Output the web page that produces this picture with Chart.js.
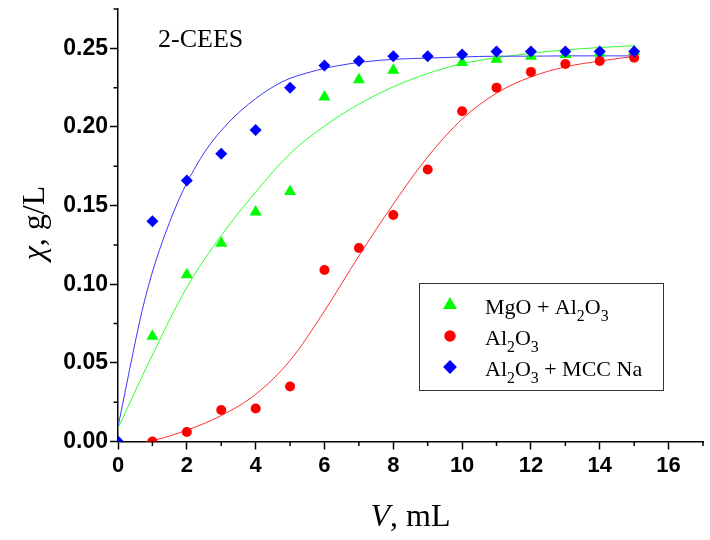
<!DOCTYPE html>
<html lang="en">

<head>
    <meta charset="UTF-8">
    <title>2-CEES</title>
    <script src="https://cdn.jsdelivr.net/npm/chart.js"></script>
    <style>
        body { margin: 0; background: #fff; }
        canvas { display: block; }
    </style>
</head>

<body>
    <canvas id="grafico" width="710" height="540"></canvas>

    <script>
        // pontos experimentais (V, mL)
        const volumes = [0, 1, 2, 3, 4, 5, 6, 7, 8, 9, 10, 11, 12, 13, 14, 15];
        const mgoAl2o3 = [null, 0.067, 0.106, 0.126, 0.146, 0.159, 0.219, 0.230, 0.236, null, 0.241, 0.243, 0.245, 0.246, 0.247, 0.248];
        const al2o3 = [null, 0.000, 0.006, 0.020, 0.021, 0.035, 0.109, 0.123, 0.144, 0.173, 0.210, 0.225, 0.235, 0.240, 0.242, 0.244];
        const al2o3Mcc = [0.000, 0.140, 0.166, 0.183, 0.198, 0.225, 0.239, 0.242, 0.245, 0.245, 0.246, 0.248, 0.248, 0.248, 0.248, 0.248];

        // curvas ajustadas
        const fitBlueX = [0, 0.8, 1.6, 2.4, 3.2, 4, 4.8, 5.6, 6.4, 7.2, 8, 9, 10, 11, 12, 13, 14, 15];
        const fitBlueY = [0.0095, 0.092, 0.145, 0.180, 0.2025, 0.218, 0.229, 0.235, 0.239, 0.2415, 0.243, 0.2438, 0.2445, 0.245, 0.245, 0.2452, 0.2452, 0.2452];
        const fitGreenX = [0, 1, 2, 3, 4, 5, 6, 7, 8, 9, 10, 11, 12, 13, 14, 15];
        const fitGreenY = [0.0085, 0.055, 0.098, 0.131, 0.1586, 0.183, 0.2006, 0.2145, 0.2255, 0.234, 0.2402, 0.244, 0.2468, 0.249, 0.2505, 0.2517];
        const fitRedX = [0.8, 1, 2, 3, 4, 5, 6, 7, 8, 9, 10, 11, 12, 13, 14, 15];
        const fitRedY = [0, 0.0006, 0.0072, 0.0165, 0.030, 0.0515, 0.083, 0.118, 0.151, 0.181, 0.205, 0.2215, 0.2318, 0.2382, 0.2419, 0.2449];

        const xMax = 17;
        const yMax = 0.275;
        const legendLabels = [
            [['MgO + Al', 0], ['2', 1], ['O', 0], ['3', 1]],
            [['Al', 0], ['2', 1], ['O', 0], ['3', 1]],
            [['Al', 0], ['2', 1], ['O', 0], ['3', 1], [' + MCC Na', 0]]
        ];

        const serif = '"Liberation Serif", "Times New Roman", serif';
        const sans = '"Liberation Sans", Arial, sans-serif';

        function pares(xs, ys) {
            return xs.map((x, i) => ({ x: x, y: ys[i] }));
        }

        // desenha texto com partes subscritas
        function textoMisto(ctx, partes, x, y, tam) {
            partes.forEach(p => {
                const t = p[1] ? tam * 0.72 : tam;
                ctx.font = t + 'px ' + serif;
                ctx.fillText(p[0], x, y + (p[1] ? tam * 0.33 : 0));
                x += ctx.measureText(p[0]).width;
            });
        }

        const extras = {
            id: 'extras',
            afterDraw(chart) {
                const ctx = chart.ctx;
                const xs = chart.scales.x;
                const ys = chart.scales.y;
                const area = chart.chartArea;
                ctx.save();

                // ticks menores
                ctx.strokeStyle = '#000';
                ctx.lineWidth = 1.5;
                ctx.beginPath();
                xs.ticks.forEach(t => {
                    if (Math.round(t.value) % 2 !== 0) {
                        const px = xs.getPixelForValue(t.value);
                        ctx.moveTo(px, area.bottom);
                        ctx.lineTo(px, area.bottom + 4.5);
                    }
                });
                ys.ticks.forEach(t => {
                    if (Math.round(t.value / 0.025) % 2 !== 0) {
                        const py = ys.getPixelForValue(t.value);
                        ctx.moveTo(area.left, py);
                        ctx.lineTo(area.left - 4.5, py);
                    }
                });
                ctx.stroke();

                ctx.fillStyle = '#000';
                ctx.textBaseline = 'alphabetic';
                ctx.textAlign = 'left';

                // titulo eixo x
                ctx.font = 'italic 32px ' + serif;
                const wV = ctx.measureText('V').width;
                ctx.font = '32px ' + serif;
                const wR = ctx.measureText(', mL').width;
                let x0 = (area.left + area.right) / 2 - (wV + wR) / 2;
                ctx.font = 'italic 32px ' + serif;
                ctx.fillText('V', x0, 526);
                ctx.font = '32px ' + serif;
                ctx.fillText(', mL', x0 + wV, 526);

                // titulo eixo y
                ctx.save();
                ctx.translate(44, 223);
                ctx.rotate(-Math.PI / 2);
                ctx.font = 'italic 32px ' + serif;
                const wC = ctx.measureText('\u03C7').width;
                ctx.font = '32px ' + serif;
                const wG = ctx.measureText(', g/L').width;
                ctx.font = 'italic 32px ' + serif;
                ctx.fillText('\u03C7', -(wC + wG) / 2, 0);
                ctx.font = '32px ' + serif;
                ctx.fillText(', g/L', -(wC + wG) / 2 + wC, 0);
                ctx.restore();

                // anotacao
                ctx.font = '26px ' + serif;
                ctx.fillText('2-CEES', 158, 47);

                // legenda
                ctx.lineWidth = 1;
                ctx.strokeStyle = '#333';
                ctx.strokeRect(419.5, 283.5, 244, 107);
                const ordem = [2, 1, 0];
                const linhas = [305, 336, 367];
                ordem.forEach((di, i) => {
                    const ds = chart.data.datasets[di];
                    ctx.fillStyle = ds.pointBackgroundColor;
                    ctx.strokeStyle = ds.pointBackgroundColor;
                    Chart.helpers.drawPoint(ctx, {
                        pointStyle: ds.pointStyle,
                        radius: ds.pointRadius * 1.15,
                        rotation: 0,
                        borderWidth: 0
                    }, 450, linhas[i]);
                    ctx.fillStyle = '#000';
                    textoMisto(ctx, legendLabels[i], 485, linhas[i] + 9, 22);
                });

                ctx.restore();
            }
        };

        const ctx = document.getElementById('grafico').getContext('2d');
        new Chart(ctx, {
            type: 'scatter',
            data: {
                datasets: [
                    {
                        label: 'Al2O3 + MCC Na',
                        data: pares(volumes, al2o3Mcc),
                        pointStyle: 'rectRot',
                        pointRadius: 6,
                        pointBackgroundColor: '#0000ff',
                        pointBorderWidth: 0,
                        showLine: false,
                        clip: 0
                    },
                    {
                        label: 'Al2O3',
                        data: pares(volumes, al2o3),
                        pointStyle: 'circle',
                        pointRadius: 5,
                        pointBackgroundColor: '#ff0000',
                        pointBorderWidth: 0,
                        showLine: false,
                        clip: 0
                    },
                    {
                        label: 'MgO + Al2O3',
                        data: pares(volumes, mgoAl2o3),
                        pointStyle: 'triangle',
                        pointRadius: 7,
                        pointBackgroundColor: '#00ff00',
                        pointBorderWidth: 0,
                        showLine: false,
                        clip: 0
                    },
                    {
                        data: pares(fitBlueX, fitBlueY),
                        showLine: true,
                        borderColor: '#3a3aff',
                        borderWidth: 1,
                        pointRadius: 0,
                        cubicInterpolationMode: 'monotone'
                    },
                    {
                        data: pares(fitGreenX, fitGreenY),
                        showLine: true,
                        borderColor: '#30ff30',
                        borderWidth: 1,
                        pointRadius: 0,
                        cubicInterpolationMode: 'monotone'
                    },
                    {
                        data: pares(fitRedX, fitRedY),
                        showLine: true,
                        borderColor: '#ff3030',
                        borderWidth: 1,
                        pointRadius: 0,
                        cubicInterpolationMode: 'monotone'
                    }
                ]
            },
            options: {
                responsive: false,
                animation: false,
                layout: { padding: { top: 9, right: 6, left: 0, bottom: 0 } },
                plugins: {
                    legend: { display: false },
                    tooltip: { enabled: false }
                },
                scales: {
                    x: {
                        type: 'linear',
                        min: 0,
                        max: xMax,
                        afterFit: s => { s.height = 98.5; s.paddingLeft = 0; s.paddingRight = 0; },
                        border: { color: '#000', width: 1.5 },
                        grid: {
                            drawOnChartArea: false,
                            tickLength: 8,
                            tickWidth: 1.5,
                            tickColor: c => (c.tick && Math.round(c.tick.value) % 2 === 0) ? '#000' : 'rgba(0,0,0,0)'
                        },
                        ticks: {
                            stepSize: 1,
                            autoSkip: false,
                            maxRotation: 0,
                            padding: 3,
                            color: '#000',
                            font: { family: sans, size: 22, weight: 'bold' },
                            callback: v => (Math.round(v) % 2 === 0) ? v : ''
                        }
                    },
                    y: {
                        min: 0,
                        max: yMax,
                        afterFit: s => { s.width = 118; s.paddingTop = 0; s.paddingBottom = 0; },
                        border: { color: '#000', width: 1.5 },
                        grid: {
                            drawOnChartArea: false,
                            tickLength: 8,
                            tickWidth: 1.5,
                            tickColor: c => (c.tick && Math.round(c.tick.value / 0.025) % 2 === 0) ? '#000' : 'rgba(0,0,0,0)'
                        },
                        ticks: {
                            stepSize: 0.025,
                            autoSkip: false,
                            padding: 2,
                            color: '#000',
                            font: { family: sans, size: 23, weight: 'bold' },
                            callback: v => (Math.round(v / 0.025) % 2 === 0) ? v.toFixed(2) : ''
                        }
                    }
                }
            },
            plugins: [extras]
        });
    </script>
</body>

</html>
